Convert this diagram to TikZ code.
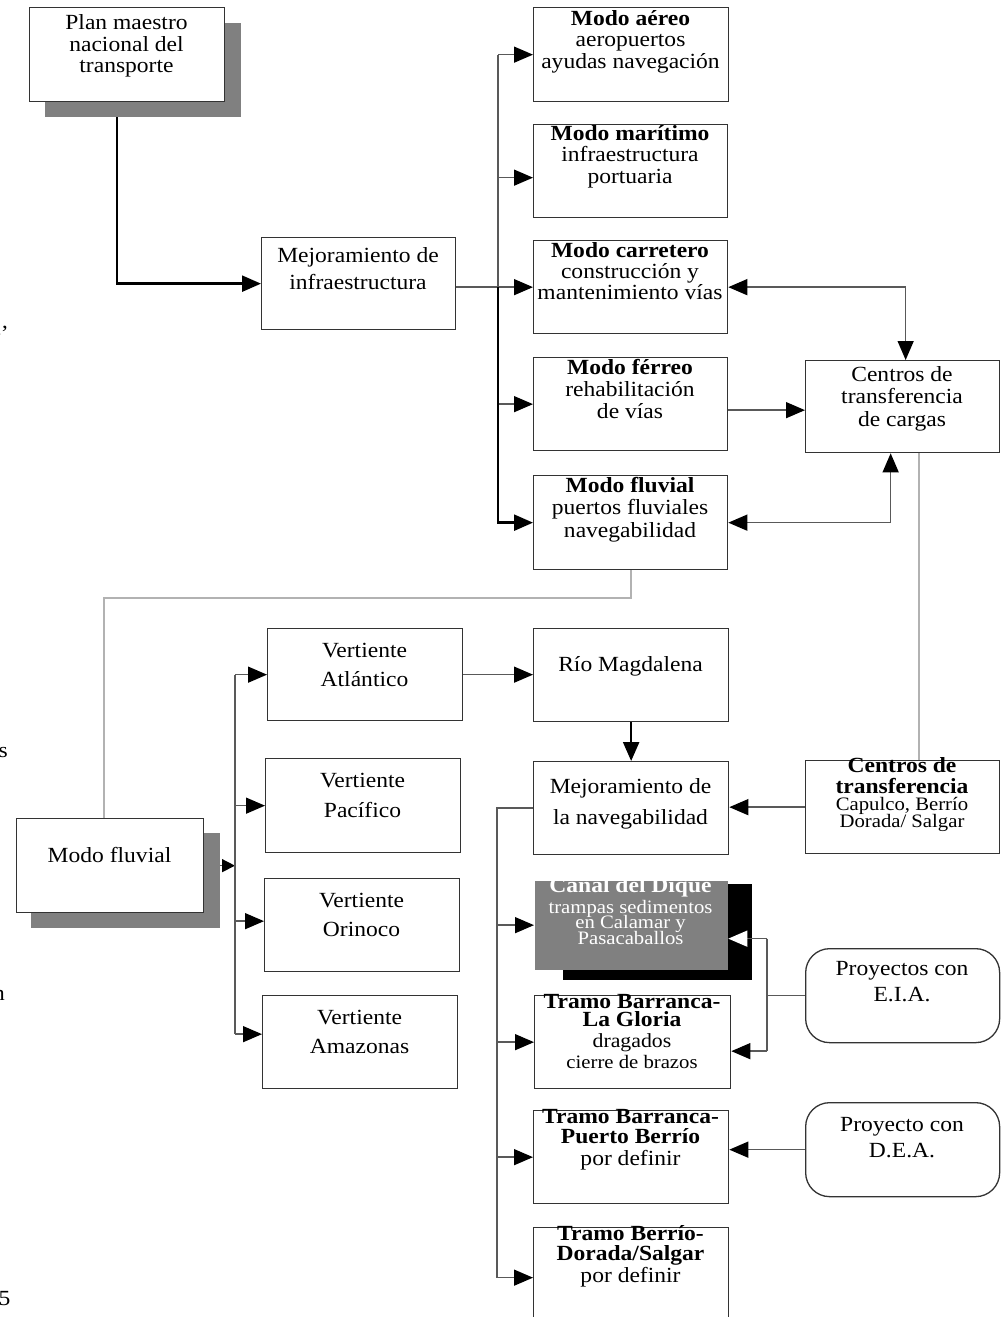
\documentclass[tikz,border=0pt]{standalone}
\usepackage{fontspec}
\setmainfont[FakeStretch=1.09]{Liberation Serif}
\usetikzlibrary{arrows.meta}

% one centred text row with no height, so rows can be placed by explicit kerns
\newcommand\rowtxt[1]{\hbox to 0pt{\hss\smash{#1}\hss}}
\newcommand\stack[1]{\vtop{\baselineskip=0pt\lineskip=0pt\lineskiplimit=0pt #1}}
\newcommand\gap[1]{\kern#1pt\relax}
\newcommand\smallsz{\fontsize{19}{18}\selectfont}

\tikzset{
  box/.style={draw=black!80, line width=1.3pt, fill=white, anchor=north west,
    inner sep=0pt, minimum width=194pt, minimum height=93pt},
  rbox/.style={box, rounded corners=24pt},
  shadowbox/.style={fill=black!50, anchor=north west, inner sep=0pt},
  tx/.style={anchor=base, inner sep=0pt, font=\fontsize{21.6}{22}\selectfont},
  conn/.style={draw=black!65, line width=1.4pt},
  heavy/.style={draw=black, line width=2.4pt},
  faint/.style={draw=black!30, line width=2pt},
  >={Triangle[length=19pt,width=16pt,color=black]},
}

\begin{document}
\begin{tikzpicture}[x=1pt,y=-1pt]
\useasboundingbox (0,0) rectangle (1006,1317);

% ---------- shadows ----------
\node[shadowbox, minimum width=196pt, minimum height=94pt] (plansh) at (45,23) {};
\node[shadowbox, minimum width=189pt, minimum height=95pt] (fluvsh) at (31,833) {};
\node[shadowbox, fill=black, minimum width=189pt, minimum height=96pt] (canalsh) at (563,884) {};

% ---------- boxes ----------
\node[box, minimum width=195pt, minimum height=94pt] (plan) at (29,7) {};
\node[box, minimum height=92pt] (mejinf) at (261,237) {};
\node[box, minimum width=195pt, minimum height=94pt] (aereo) at (533,7) {};
\node[box] (mar) at (533,124) {};
\node[box] (carr) at (533,240) {};
\node[box] (ferr) at (533,357) {};
\node[box, minimum height=94pt] (fluv) at (533,475) {};
\node[box, minimum height=92pt] (ctc) at (805,360) {};

\node[box, minimum width=187pt, minimum height=94pt] (fluv2) at (16,818) {};
\node[box, minimum width=195pt, minimum height=92pt] (vatl) at (267,628) {};
\node[box, minimum width=195pt, minimum height=94pt] (vpac) at (265,758) {};
\node[box, minimum width=195pt] (vori) at (264,878) {};
\node[box, minimum width=195pt] (vama) at (262,995) {};
\node[box, minimum width=195pt] (rio) at (533,628) {};
\node[box, minimum width=195pt] (mejnav) at (533,761) {};
\node[box] (ctr) at (805,760) {};
\node[box, draw=none, fill=black!50, minimum width=193pt, minimum height=89pt] (canal) at (534,880) {};
\node[box, minimum width=196pt] (glor) at (534,995) {};
\node[box, minimum width=195pt] (pber) at (533,1110) {};
\node[box, minimum width=195pt, minimum height=100pt] (dor) at (533,1227) {};
\node[rbox, minimum height=94pt] (eia) at (805,948) {};
\node[rbox, minimum height=94pt] (dea) at (805,1102) {};

% ---------- upper connectors ----------
\coordinate (planout) at ([xshift=72pt]plansh.south west);
\draw[heavy,->] (planout) |- (mejinf.west);

\coordinate (tk1) at (498,0);
\coordinate (marin) at ([yshift=-6.5pt]mar.west);
\draw[conn] (mejinf.east |- carr.west) -- (tk1 |- carr.west) -- (tk1 |- aereo.west);
\draw[conn,->] (tk1 |- aereo.west) -- (aereo.west);
\draw[conn,->] (tk1 |- marin) -- (marin);
\draw[conn,->] (tk1 |- carr.west) -- (carr.west);
\draw[conn,->] (tk1 |- ferr.west) -- (ferr.west);
\draw[heavy,->] (tk1 |- carr.west) -- (tk1 |- fluv.west) -- (fluv.west);

\coordinate (cin) at ([xshift=3pt]ctc.north);
\draw[conn,<->] (carr.east) -| (cin);
\coordinate (fin) at ([yshift=-6pt]ferr.east);
\draw[conn,->] (fin) -- (fin -| ctc.west);
\coordinate (fout) at ([xshift=-12pt]ctc.south);
\draw[conn,<->] (fluv.east) -| (fout);

% ---------- light links between the two levels ----------
\coordinate (g1) at ([xshift=16pt]ctr.north);
\draw[faint] (g1) -- (g1 |- ctc.south);
\coordinate (g2) at ([xshift=-6pt]fluv2.north);
\coordinate (g3) at ([yshift=-28pt]fluv.south);
\draw[faint] (fluv.south) -- (g3) -| (g2);

% ---------- lower connectors ----------
\coordinate (tk2) at (235,0);
\coordinate (oriin) at ([yshift=4pt]vori.west);
\coordinate (amain) at ([yshift=8pt]vama.west);
\draw[conn,-{Triangle[length=13pt,width=13pt,color=black]}] (fluvsh.east |- fluv2.east) -- (tk2 |- fluv2.east);
\draw[conn] (tk2 |- vatl.west) -- (tk2 |- amain);
\draw[conn,->] (tk2 |- vatl.west) -- (vatl.west);
\draw[conn,->] (tk2 |- vpac.west) -- (vpac.west);
\draw[conn,->] (tk2 |- oriin) -- (oriin);
\draw[conn,->] (tk2 |- amain) -- (amain);
\draw[conn,->] (vatl.east) -- (vatl.east -| rio.west);
\draw[heavy,->] (rio.south) -- (mejnav.north);

\coordinate (tk3) at (497,0);
\draw[conn] (mejnav.west) -| (tk3 |- dor.west);
\draw[conn,->] (tk3 |- canal.west) -- (canal.west);
\draw[conn,->] (tk3 |- glor.west) -- (glor.west);
\draw[conn,->] (tk3 |- pber.west) -- (pber.west);
\draw[conn,->] (tk3 |- dor.west) -- (dor.west);
\draw[conn,->] (ctr.west) -- (ctr.west -| mejnav.east);

\coordinate (ek) at (767,0);
\coordinate (ca) at ([yshift=-13.5pt]canal.east);
\coordinate (ga) at ([yshift=-9pt]glor.east);
\draw[conn] (eia.west) -- (eia.west -| ek);
\draw[conn] (ek |- ca) -- (ek |- ga);
\draw[conn,-{Triangle[length=19pt,width=16pt,color=white,fill=white]}] (ek |- ca) -- (ca);
\draw[conn,->] (ek |- ga) -- (ga);
\draw[conn,->] (dea.west) -- (dea.west -| pber.east);

% ---------- texts ----------
\node[tx] (t-plan) at (126.5,29.5) {\stack{\rowtxt{Plan maestro}\gap{22}\rowtxt{nacional del}\gap{21}\rowtxt{transporte}}};
\node[tx] (t-mejinf) at (358,262) {\stack{\rowtxt{Mejoramiento de}\gap{27}\rowtxt{infraestructura}}};
\node[tx] (t-aereo) at (630.5,25) {\stack{\rowtxt{\bfseries Modo aéreo}\gap{21.7}\rowtxt{aeropuertos}\gap{21.6}\rowtxt{ayudas navegación}}};
\node[tx] (t-mar) at (630,140) {\stack{\rowtxt{\bfseries Modo marítimo}\gap{21.7}\rowtxt{infraestructura}\gap{21.6}\rowtxt{portuaria}}};
\node[tx] (t-carr) at (630,257.3) {\stack{\rowtxt{\bfseries Modo carretero}\gap{21}\rowtxt{construcción y}\gap{21}\rowtxt{mantenimiento vías}}};
\node[tx] (t-ferr) at (630,374) {\stack{\rowtxt{\bfseries Modo férreo}\gap{22}\rowtxt{rehabilitación}\gap{22}\rowtxt{de vías}}};
\node[tx] (t-fluv) at (630,492) {\stack{\rowtxt{\bfseries Modo fluvial}\gap{22.5}\rowtxt{puertos fluviales}\gap{22.5}\rowtxt{navegabilidad}}};
\node[tx] (t-ctc) at (902,381) {\stack{\rowtxt{Centros de}\gap{22}\rowtxt{transferencia}\gap{23.5}\rowtxt{de cargas}}};

\node[tx] (t-fluv2) at (109.5,862) {Modo fluvial};
\node[tx] (t-vatl) at (364.5,657) {\stack{\rowtxt{Vertiente}\gap{29}\rowtxt{Atlántico}}};
\node[tx] (t-vpac) at (362.5,787) {\stack{\rowtxt{Vertiente}\gap{30}\rowtxt{Pacífico}}};
\node[tx] (t-vori) at (361.5,907) {\stack{\rowtxt{Vertiente}\gap{29}\rowtxt{Orinoco}}};
\node[tx] (t-vama) at (359.5,1024) {\stack{\rowtxt{Vertiente}\gap{29}\rowtxt{Amazonas}}};
\node[tx] (t-rio) at (630.5,671) {Río Magdalena};
\node[tx] (t-mejnav) at (630.5,793) {\stack{\rowtxt{Mejoramiento de}\gap{31}\rowtxt{la navegabilidad}}};
\node[tx] (t-ctr) at (902,772) {\stack{\rowtxt{\bfseries Centros de}\gap{21}\rowtxt{\bfseries transferencia}\gap{17}\rowtxt{\smallsz Capulco, Berrío}\gap{17}\rowtxt{\smallsz Dorada/ Salgar}}};
\node[tx, text=white] (t-canal) at (630.5,892) {\stack{\rowtxt{\bfseries Canal del Dique}\gap{21}\rowtxt{\smallsz trampas sedimentos}\gap{15.5}\rowtxt{\smallsz en Calamar y}\gap{15.5}\rowtxt{\smallsz Pasacaballos}}};
\node[tx] (t-glor) at (632,1008) {\stack{\rowtxt{\bfseries Tramo Barranca-}\gap{18}\rowtxt{\bfseries La Gloria}\gap{21}\rowtxt{\fontsize{20}{20}\selectfont dragados}\gap{21}\rowtxt{\smallsz cierre de brazos}}};
\node[tx] (t-pber) at (630.5,1123) {\stack{\rowtxt{\bfseries Tramo Barranca-}\gap{20}\rowtxt{\bfseries Puerto Berrío}\gap{22}\rowtxt{por definir}}};
\node[tx] (t-dor) at (630.5,1240) {\stack{\rowtxt{\bfseries Tramo Berrío-}\gap{20}\rowtxt{\bfseries Dorada/Salgar}\gap{22}\rowtxt{por definir}}};
\node[tx] (t-eia) at (902,975) {\stack{\rowtxt{Proyectos con}\gap{26}\rowtxt{E.I.A.}}};
\node[tx] (t-dea) at (902,1131) {\stack{\rowtxt{Proyecto con}\gap{26}\rowtxt{D.E.A.}}};

% ---------- text cut by the left edge ----------
\node[tx, anchor=base east] (edge-e) at (9,340) {é’};
\node[tx, anchor=base west] (edge-s) at (-1.5,757) {s};
\node[tx, anchor=base west] (edge-n) at (-7,1000) {n};
\node[tx, anchor=base west] (edge-5) at (-1.5,1305) {5};
\end{tikzpicture}
\end{document}
